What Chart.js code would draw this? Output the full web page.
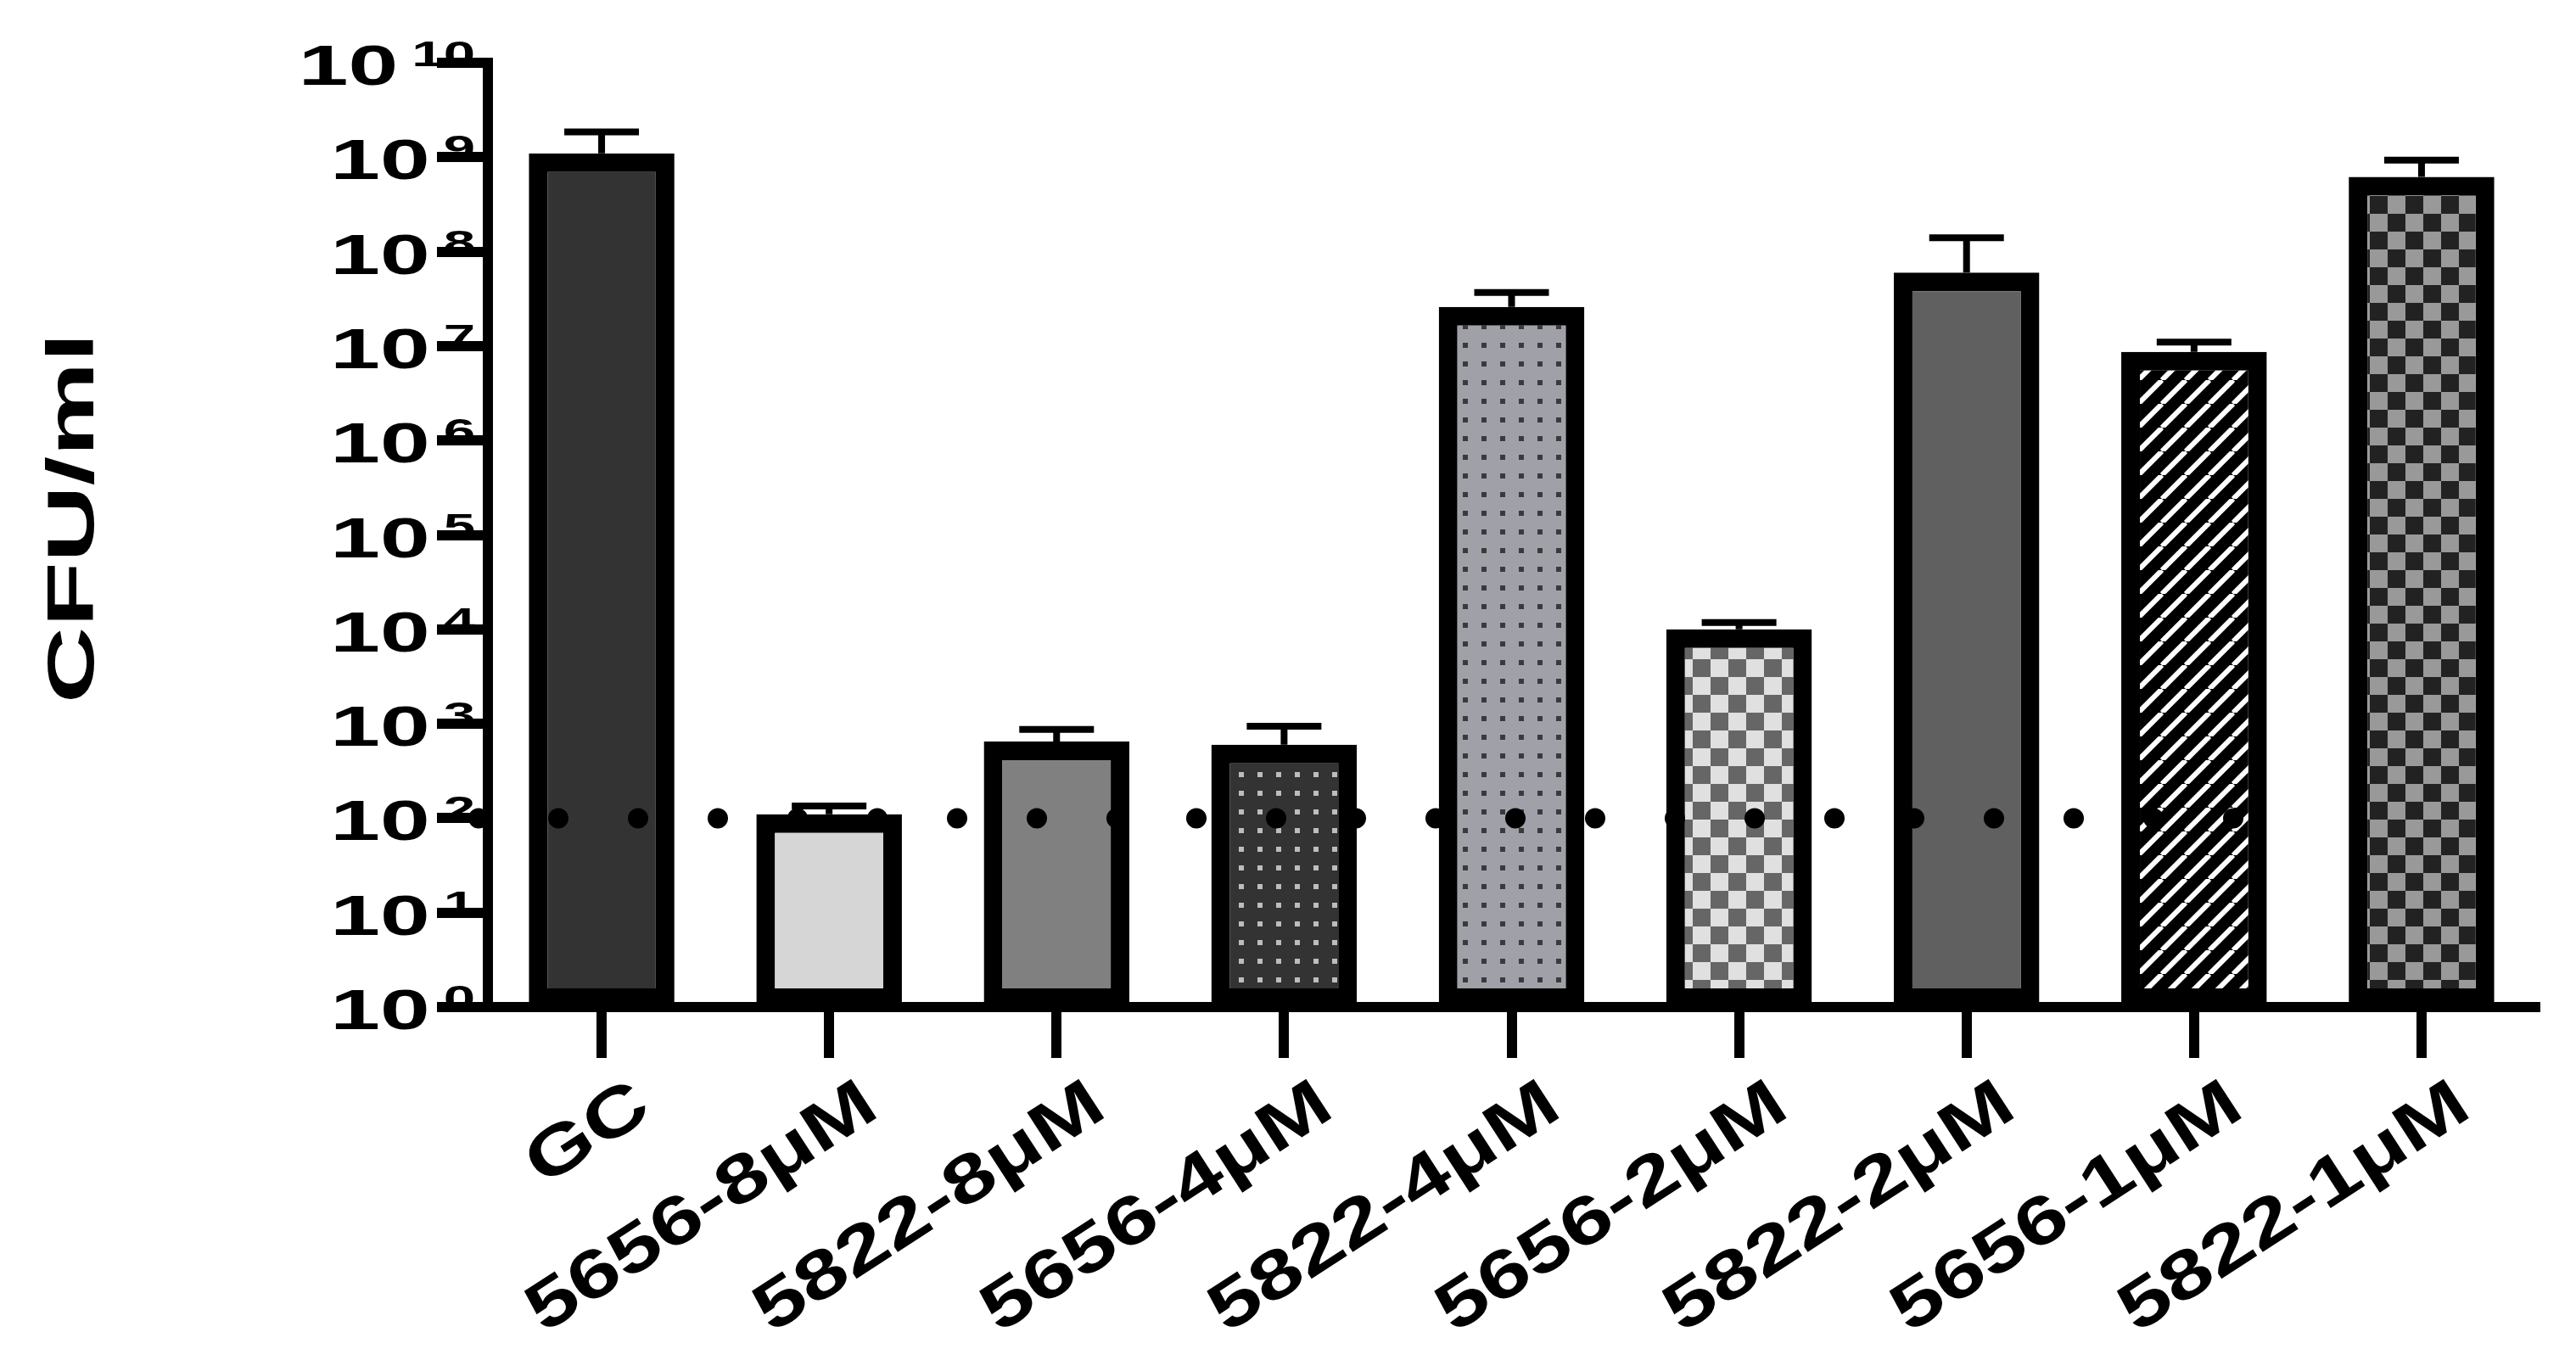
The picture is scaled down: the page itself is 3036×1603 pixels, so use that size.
<!DOCTYPE html>
<html>
<head>
<meta charset="utf-8">
<script src="https://cdn.jsdelivr.net/npm/chart.js@4/dist/chart.umd.min.js"></script>
<style>
  html, body { margin: 0; padding: 0; background: #fff; }
  #wrap { width: 3036px; height: 1603px; }
</style>
</head>
<body>
<div id="wrap"><canvas id="chart"></canvas></div>
<script>
const CATEGORIES = ['GC', '5656-8μM', '5822-8μM', '5656-4μM', '5822-4μM', '5656-2μM', '5822-2μM', '5656-1μM', '5822-1μM'];
const MEANS = [1.1e9, 110, 650, 600, 2.6e7, 1.0e4, 6.0e7, 8.7e6, 6.2e8];
const ERR_TOP = [1.85e9, 135, 870, 940, 3.7e7, 1.18e4, 1.4e8, 1.1e7, 9.3e8];
const Y_EXPONENTS = [0, 1, 2, 3, 4, 5, 6, 7, 8, 9, 10];
const DETECTION_LIMIT = 100;

function makePattern(size, draw) {
  const c = document.createElement('canvas');
  c.width = size; c.height = size;
  draw(c.getContext('2d'), size);
  return c.getContext('2d').createPattern(c, 'repeat');
}

function dots(bg, fg, s) {
  return makePattern(s, (g) => {
    g.fillStyle = bg; g.fillRect(0, 0, s, s);
    g.fillStyle = fg; g.fillRect(s / 2 - 3, s / 2 - 3, 6, 6);
  });
}

function checker(a, b, s) {
  return makePattern(s * 2, (g) => {
    g.fillStyle = a; g.fillRect(0, 0, s * 2, s * 2);
    g.fillStyle = b; g.fillRect(0, 0, s, s); g.fillRect(s, s, s, s);
  });
}

const stripes = makePattern(28, (g) => {
  g.fillStyle = '#000'; g.fillRect(0, 0, 28, 28);
  g.strokeStyle = '#fff'; g.lineWidth = 6;
  for (let k = -1; k <= 1; k++) {
    g.beginPath(); g.moveTo(k * 28, 28); g.lineTo(k * 28 + 28, 0); g.stroke();
  }
});

const FILLS = [
  '#333333',
  '#d6d6d6',
  '#808080',
  dots('#333333', '#bdbdbd', 22),
  dots('#a0a0a8', '#3a3a3a', 22),
  checker('#e0e0e0', '#666666', 21),
  '#606060',
  stripes,
  checker('#999999', '#222222', 21),
];

const FONT = '"Liberation Sans", Arial, sans-serif';

const drawExtras = {
  id: 'drawExtras',
  afterDatasetsDraw(chart) {
    const { ctx, scales: { x, y } } = chart;
    ctx.save();
    // detection limit dotted line
    const yl = y.getPixelForValue(DETECTION_LIMIT);
    ctx.strokeStyle = '#000';
    ctx.lineWidth = 24;
    ctx.lineCap = 'round';
    ctx.setLineDash([0, 94]);
    ctx.beginPath(); ctx.moveTo(564, yl); ctx.lineTo(2700, yl); ctx.stroke();
    ctx.setLineDash([]);
    ctx.lineCap = 'butt';
    // error bars
    const meta = chart.getDatasetMeta(0);
    ctx.lineWidth = 8;
    meta.data.forEach((bar, i) => {
      const yt = y.getPixelForValue(ERR_TOP[i]);
      ctx.beginPath();
      ctx.moveTo(bar.x, bar.y); ctx.lineTo(bar.x, yt);
      ctx.moveTo(bar.x - 44, yt); ctx.lineTo(bar.x + 44, yt);
      ctx.stroke();
    });
    // y tick labels 10^n, horizontally wide like the original
    ctx.fillStyle = '#000';
    ctx.textBaseline = 'alphabetic';
    ctx.textAlign = 'right';
    Y_EXPONENTS.forEach((e) => {
      const py = y.getPixelForValue(Math.pow(10, e));
      ctx.save();
      ctx.translate(560, py);
      ctx.scale(1.6, 1);
      ctx.font = 'bold 42px ' + FONT;
      const ew = ctx.measureText(String(e)).width;
      ctx.fillText(String(e), 0, 4);
      ctx.font = 'bold 66px ' + FONT;
      ctx.fillText('10', -ew - 10, 26);
      ctx.restore();
    });
    // x labels
    ctx.font = 'bold 80px ' + FONT;
    ctx.textAlign = 'right';
    ctx.textBaseline = 'top';
    CATEGORIES.forEach((c, i) => {
      const px = x.getPixelForValue(i);
      ctx.save();
      ctx.translate(px + 28, 1262);
      ctx.rotate(-33 * Math.PI / 180);
      ctx.scale(1.3, 1);
      ctx.fillText(c, 0, 0);
      ctx.restore();
    });
    // y title
    ctx.save();
    ctx.translate(88, (y.top + y.bottom) / 2 - 20);
    ctx.rotate(-Math.PI / 2);
    ctx.scale(1.6, 1);
    ctx.textAlign = 'center';
    ctx.textBaseline = 'middle';
    ctx.font = 'bold 78px ' + FONT;
    ctx.fillText('CFU/ml', 0, 0);
    ctx.restore();
    ctx.restore();
  }
};

new Chart(document.getElementById('chart'), {
  type: 'bar',
  data: {
    labels: CATEGORIES,
    datasets: [{
      data: MEANS,
      backgroundColor: FILLS,
      borderColor: '#000',
      borderWidth: 22,
      borderSkipped: false,
      categoryPercentage: 1,
      barPercentage: 0.64,
    }]
  },
  options: {
    responsive: true,
    maintainAspectRatio: false,
    animation: false,
    devicePixelRatio: 1,
    layout: { padding: { top: 74, right: 48, left: 0, bottom: 0 } },
    plugins: { legend: { display: false }, tooltip: { enabled: false } },
    scales: {
      x: {
        afterFit: (s) => { s.height = 1603 - 1187; },
        ticks: { display: false },
        border: { color: '#000', width: 12 },
        grid: { drawOnChartArea: false, color: '#000', tickLength: 60, lineWidth: 12, offset: false },
      },
      y: {
        type: 'logarithmic',
        min: 1,
        max: 1e10,
        afterFit: (s) => { s.width = 575; },
        afterBuildTicks: (s) => { s.ticks = Y_EXPONENTS.map((e) => ({ value: Math.pow(10, e), major: true })); },
        ticks: { display: false },
        border: { color: '#000', width: 12 },
        grid: { drawOnChartArea: false, color: '#000', tickLength: 60, lineWidth: 12 },
      }
    }
  },
  plugins: [drawExtras]
});
</script>
</body>
</html>
